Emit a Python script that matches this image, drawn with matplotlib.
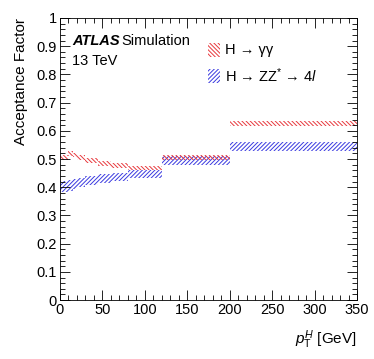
import matplotlib
matplotlib.use("Agg")
import matplotlib.pyplot as plt
from matplotlib.patches import Rectangle
from matplotlib.ticker import MultipleLocator, FuncFormatter
import numpy as np

plt.rcParams['font.family'] = ['Liberation Sans', 'DejaVu Sans']
plt.rcParams['mathtext.fontset'] = 'custom'
plt.rcParams['mathtext.rm'] = 'Liberation Sans'
plt.rcParams['mathtext.it'] = 'Liberation Sans:italic'
plt.rcParams['hatch.linewidth'] = 0.7

# Data
bin_edges = [0, 10, 15, 20, 30, 45, 60, 80, 120, 200, 350]
yy_values = [0.505, 0.520, 0.515, 0.505, 0.495, 0.485, 0.478, 0.468, 0.505, 0.627]
yy_errors = [0.008, 0.008, 0.008, 0.008, 0.008, 0.008, 0.008, 0.007, 0.008, 0.009]
zz_values = [0.402, 0.407, 0.412, 0.417, 0.423, 0.430, 0.436, 0.447, 0.495, 0.545]
zz_errors = [0.020, 0.019, 0.018, 0.017, 0.016, 0.016, 0.015, 0.014, 0.015, 0.015]
labels = ['H → γγ', 'H → ZZ$^{*}$ → 4$\\mathit{l}$']

red = '#e8383d'
blue = '#3a3ae0'
hatch_red = '\\' * 8
hatch_blue = '/' * 8

fig = plt.figure(figsize=(3.74, 3.59), dpi=100)
ax = fig.add_axes([0.160, 0.164, 0.795, 0.786])

edges = np.array(bin_edges)
widths = np.diff(edges)
lo_yy = np.array(yy_values) - np.array(yy_errors)
lo_zz = np.array(zz_values) - np.array(zz_errors)
ax.bar(edges[:-1], 2 * np.array(zz_errors), bottom=lo_zz, width=widths, align='edge',
       facecolor='none', edgecolor=blue, hatch=hatch_blue, linewidth=0)
ax.bar(edges[:-1], 2 * np.array(yy_errors), bottom=lo_yy, width=widths, align='edge',
       facecolor='none', edgecolor=red, hatch=hatch_red, linewidth=0)

ax.set_xlim(0, 350)
ax.set_ylim(0, 1)
ax.xaxis.set_major_locator(MultipleLocator(50))
ax.xaxis.set_minor_locator(MultipleLocator(10))
ax.yaxis.set_major_locator(MultipleLocator(0.1))
ax.yaxis.set_minor_locator(MultipleLocator(0.02))
fmt = FuncFormatter(lambda v, p: '%g' % round(v, 3))
ax.xaxis.set_major_formatter(fmt)
ax.yaxis.set_major_formatter(fmt)
ax.tick_params(which='both', direction='in', top=True, right=True, labelsize=10.5)
ax.tick_params(which='major', length=7, width=0.6)
ax.tick_params(which='minor', length=3.5, width=0.6)
for s in ax.spines.values():
    s.set_linewidth(0.6)
ax.tick_params(axis='x', pad=2)
ax.tick_params(axis='y', pad=2)

ax.set_ylabel('Acceptance Factor', fontsize=11, loc='top', labelpad=6)
ax.set_xlabel(r'$p_{\mathrm{T}}^{H}$ [GeV]', fontsize=11, loc='right', labelpad=8)

fig.text(72 / 374, 1 - 41 / 359, 'ATLAS', fontsize=10.5, fontweight='bold', style='italic', va='center')
fig.text(121 / 374, 1 - 41 / 359, 'Simulation', fontsize=10.5, va='center')
fig.text(72 / 374, 1 - 61 / 359, '13 TeV', fontsize=10.5, va='center')

# legend
for i, (col, hatch, lab) in enumerate([(red, hatch_red, labels[0]), (blue, hatch_blue, labels[1])]):
    yc = 1 - (50 + 26 * i) / 359
    r = Rectangle((208 / 374, yc - 7 / 359), 12 / 374, 14 / 359, transform=fig.transFigure,
                  facecolor='none', edgecolor=col, hatch=hatch, linewidth=0)
    fig.add_artist(r)
    fig.text(225 / 374, yc, lab, fontsize=10.5, va='center')

fig.savefig('out.png', dpi=100)
